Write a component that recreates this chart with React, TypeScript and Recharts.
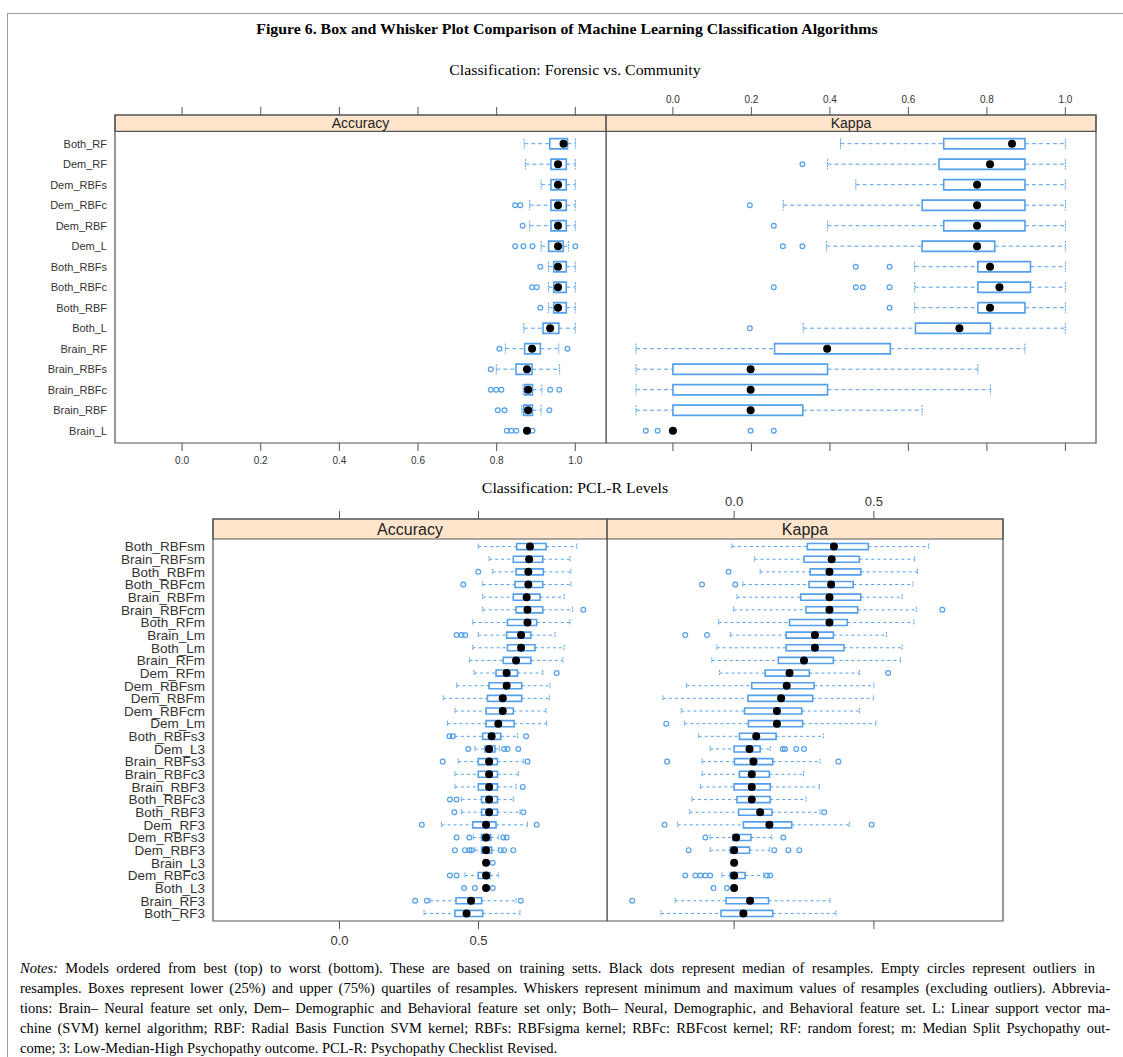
import React from 'react';
import { ComposedChart, XAxis, YAxis, ReferenceArea, ReferenceLine, Scatter } from 'recharts';

// ---------- DATA ----------
const forensicModels = ['Both_RF', 'Dem_RF', 'Dem_RBFs', 'Dem_RBFc', 'Dem_RBF', 'Dem_L', 'Both_RBFs', 'Both_RBFc', 'Both_RBF', 'Both_L', 'Brain_RF', 'Brain_RBFs', 'Brain_RBFc', 'Brain_RBF', 'Brain_L'];

// [whisker min, q1, median, q3, whisker max]
const forensicAccuracy = [
  [0.87, 0.935, 0.97, 0.98, 1.0],
  [0.873, 0.938, 0.956, 0.977, 1.0],
  [0.913, 0.938, 0.956, 0.977, 1.0],
  [0.884, 0.938, 0.956, 0.977, 1.0],
  [0.884, 0.938, 0.956, 0.977, 1.0],
  [0.913, 0.932, 0.956, 0.969, 0.983],
  [0.932, 0.945, 0.956, 0.977, 1.0],
  [0.932, 0.945, 0.956, 0.977, 1.0],
  [0.932, 0.945, 0.956, 0.977, 1.0],
  [0.869, 0.918, 0.936, 0.958, 1.0],
  [0.822, 0.871, 0.89, 0.911, 0.958],
  [0.799, 0.849, 0.877, 0.89, 0.96],
  [0.867, 0.871, 0.88, 0.891, 0.915],
  [0.864, 0.869, 0.88, 0.891, 0.913],
  [0.877, 0.877, 0.877, 0.877, 0.877],
];
const forensicAccuracyOutliers = [
  [], [], [], [0.847, 0.86], [0.866], [0.847, 0.868, 0.891, 1.0], [0.911], [0.89, 0.902], [0.911], [],
  [0.807, 0.98], [0.785], [0.785, 0.799, 0.812, 0.936, 0.959], [0.803, 0.82, 0.934], [0.826, 0.837, 0.85, 0.891],
];

const forensicKappa = [
  [0.427, 0.69, 0.864, 0.897, 1.0],
  [0.394, 0.678, 0.808, 0.897, 1.0],
  [0.466, 0.69, 0.775, 0.897, 1.0],
  [0.281, 0.635, 0.775, 0.897, 1.0],
  [0.394, 0.69, 0.775, 0.897, 1.0],
  [0.391, 0.635, 0.775, 0.82, 1.0],
  [0.616, 0.777, 0.808, 0.911, 1.0],
  [0.616, 0.777, 0.832, 0.911, 1.0],
  [0.616, 0.777, 0.808, 0.897, 1.0],
  [0.332, 0.618, 0.73, 0.809, 1.0],
  [-0.094, 0.259, 0.393, 0.554, 0.897],
  [-0.094, 0.0, 0.198, 0.394, 0.777],
  [-0.094, 0.0, 0.198, 0.394, 0.809],
  [-0.094, 0.0, 0.198, 0.331, 0.635],
  [0, 0, 0, 0, 0],
];
const forensicKappaOutliers = [
  [], [0.33], [], [0.196], [0.257], [0.28, 0.33], [0.466, 0.552], [0.257, 0.466, 0.484, 0.552], [0.552], [0.196],
  [], [], [], [], [-0.069, -0.039, 0.198, 0.257],
];

const pclrModels = ['Both_RBFsm', 'Brain_RBFsm', 'Both_RBFm', 'Both_RBFcm', 'Brain_RBFm', 'Brain_RBFcm', 'Both_RFm', 'Brain_Lm', 'Both_Lm', 'Brain_RFm', 'Dem_RFm', 'Dem_RBFsm', 'Dem_RBFm', 'Dem_RBFcm', 'Dem_Lm', 'Both_RBFs3', 'Dem_L3', 'Brain_RBFs3', 'Brain_RBFc3', 'Brain_RBF3', 'Both_RBFc3', 'Both_RBF3', 'Dem_RF3', 'Dem_RBFs3', 'Dem_RBF3', 'Brain_L3', 'Dem_RBFc3', 'Both_L3', 'Brain_RF3', 'Both_RF3'];

const pclrAccuracy = [
  [0.499, 0.637, 0.685, 0.743, 0.853],
  [0.538, 0.625, 0.682, 0.731, 0.829],
  [0.551, 0.635, 0.679, 0.733, 0.832],
  [0.515, 0.631, 0.679, 0.731, 0.832],
  [0.515, 0.625, 0.673, 0.721, 0.808],
  [0.515, 0.635, 0.676, 0.731, 0.838],
  [0.479, 0.604, 0.676, 0.709, 0.829],
  [0.499, 0.601, 0.653, 0.688, 0.775],
  [0.479, 0.604, 0.653, 0.703, 0.808],
  [0.467, 0.589, 0.635, 0.688, 0.803],
  [0.484, 0.563, 0.601, 0.64, 0.731],
  [0.421, 0.538, 0.601, 0.655, 0.757],
  [0.373, 0.532, 0.587, 0.655, 0.755],
  [0.415, 0.527, 0.587, 0.625, 0.743],
  [0.388, 0.527, 0.571, 0.628, 0.745],
  [0.415, 0.515, 0.547, 0.58, 0.64],
  [0.487, 0.523, 0.538, 0.559, 0.575],
  [0.427, 0.499, 0.538, 0.568, 0.661],
  [0.415, 0.499, 0.538, 0.568, 0.643],
  [0.415, 0.499, 0.538, 0.568, 0.635],
  [0.439, 0.511, 0.538, 0.568, 0.625],
  [0.439, 0.511, 0.538, 0.568, 0.649],
  [0.367, 0.479, 0.527, 0.563, 0.676],
  [0.481, 0.511, 0.527, 0.544, 0.571],
  [0.487, 0.511, 0.527, 0.547, 0.571],
  [0.527, 0.527, 0.527, 0.527, 0.527],
  [0.451, 0.499, 0.527, 0.541, 0.571],
  [0.527, 0.527, 0.527, 0.527, 0.527],
  [0.326, 0.419, 0.473, 0.511, 0.635],
  [0.304, 0.415, 0.457, 0.515, 0.649],
];
const pclrAccuracyOutliers = [
  [], [], [0.499], [0.445], [], [0.877], [], [0.421, 0.439, 0.452], [], [],
  [0.781], [], [], [], [], [0.395, 0.407, 0.671], [0.463, 0.592, 0.604, 0.643], [0.371, 0.676], [], [0.659],
  [0.397, 0.421], [0.413, 0.661], [0.296, 0.709], [0.421, 0.467, 0.589, 0.601], [0.415, 0.451, 0.467, 0.475, 0.58, 0.592, 0.625], [0.551], [0.397, 0.421], [0.448, 0.487, 0.551], [0.272, 0.314, 0.652], [],
];

const pclrKappa = [
  [-0.008, 0.262, 0.357, 0.48, 0.696],
  [0.073, 0.25, 0.349, 0.448, 0.646],
  [0.093, 0.272, 0.341, 0.453, 0.656],
  [0.031, 0.268, 0.347, 0.426, 0.64],
  [0.01, 0.238, 0.341, 0.453, 0.601],
  [-0.002, 0.257, 0.341, 0.442, 0.652],
  [-0.056, 0.198, 0.341, 0.405, 0.643],
  [-0.014, 0.186, 0.289, 0.355, 0.545],
  [-0.062, 0.186, 0.289, 0.393, 0.601],
  [-0.08, 0.158, 0.25, 0.355, 0.595],
  [-0.052, 0.111, 0.198, 0.269, 0.448],
  [-0.171, 0.063, 0.188, 0.286, 0.5],
  [-0.255, 0.049, 0.168, 0.281, 0.498],
  [-0.189, 0.037, 0.153, 0.242, 0.448],
  [-0.178, 0.051, 0.153, 0.245, 0.507],
  [-0.127, 0.019, 0.079, 0.15, 0.319],
  [-0.086, 0.0, 0.055, 0.093, 0.129],
  [-0.115, 0.001, 0.069, 0.138, 0.307],
  [-0.115, 0.019, 0.063, 0.126, 0.248],
  [-0.121, 0.0, 0.063, 0.129, 0.305],
  [-0.151, 0.01, 0.063, 0.129, 0.257],
  [-0.159, 0.016, 0.093, 0.135, 0.307],
  [-0.202, 0.033, 0.126, 0.206, 0.412],
  [-0.086, -0.005, 0.007, 0.06, 0.135],
  [-0.086, -0.014, 0.0, 0.055, 0.126],
  [0, 0, 0, 0, 0],
  [-0.044, -0.014, 0.0, 0.039, 0.105],
  [0, 0, 0, 0, 0],
  [-0.211, -0.029, 0.057, 0.123, 0.343],
  [-0.262, -0.047, 0.033, 0.138, 0.364],
];
const pclrKappaOutliers = [
  [], [], [-0.02], [-0.115, 0.004], [], [0.745], [], [-0.175, -0.097], [], [],
  [0.551], [], [], [], [-0.243], [], [0.174, 0.182, 0.222, 0.25], [-0.24, 0.373], [], [],
  [], [0.322], [-0.249, 0.492], [-0.103, 0.176], [-0.163, 0.143, 0.194, 0.233], [], [-0.175, -0.139, -0.121, -0.103, -0.086, 0.117, 0.129], [-0.074, -0.026], [-0.365], [],
];

const forensicTicks = [0, 0.2, 0.4, 0.6, 0.8, 1.0];
const pclrTicks = [0, 0.5];

const noteLines = [
  'Models ordered from best (top) to worst (bottom). These are based on training setts. Black dots represent median of resamples. Empty circles represent outliers in',
  'resamples. Boxes represent lower (25%) and upper (75%) quartiles of resamples. Whiskers represent minimum and maximum values of resamples (excluding outliers). Abbrevia-',
  'tions: Brain\u2013 Neural feature set only, Dem\u2013 Demographic and Behavioral feature set only; Both\u2013 Neural, Demographic, and Behavioral feature set. L: Linear support vector ma-',
  'chine (SVM) kernel algorithm; RBF: Radial Basis Function SVM kernel; RBFs: RBFsigma kernel; RBFc: RBFcost kernel; RF: random forest; m: Median Split  Psychopathy out-',
  'come; 3: Low-Median-High Psychopathy outcome. PCL-R: Psychopathy Checklist Revised.',
];

// ---------- STYLE ----------
const BLUE = '#54a0ea';
const AXIS = '#555555';
const SANS = '"Liberation Sans", Arial, sans-serif';
const SERIF = '"Liberation Serif", "Times New Roman", serif';

type PanelProps = {
  left: number; top: number; width: number; height: number;
  topH: number; bottomH: number; yWidth: number;
  names: string[]; stats: number[][]; outliers: number[][];
  xDomain: [number, number]; yDomain: [number, number]; ticks: number[];
  strip: string; stripFont: number; showNames: boolean; nameFont: number;
  topLabels: boolean; bottomLabels: boolean; tickFont: number;
  tickLen: number; topGap: number; bottomGap: number;
  boxHalf: number; medR: number; outR: number; dash: string;
};

function BoxPanel(p: PanelProps) {
  const rows = p.names.map((_, i) => i + 1);
  const medians = p.stats.map((s, i) => ({ x: s[2], y: i + 1 }));
  const outs = p.outliers.flatMap((o, i) => o.map((v) => ({ x: v, y: i + 1 })));
  const fmt = (v: number) => v.toFixed(1);
  const blank = () => '';
  const h = p.boxHalf;
  const marks = p.stats.flatMap((s, i) => {
    const y = i + 1;
    const [mn, q1, , q3, mx] = s;
    const els: any[] = [];
    if (q3 > q1) {
      els.push(
        <ReferenceArea key={`b${i}`} xAxisId="b" yAxisId="y" x1={q1} x2={q3} y1={y - h} y2={y + h}
          fill="#ffffff" fillOpacity={0} stroke={BLUE} strokeWidth={1.6} ifOverflow="visible" />
      );
    }
    if (q1 > mn) {
      els.push(
        <ReferenceLine key={`wl${i}`} xAxisId="b" yAxisId="y" segment={[{ x: mn, y }, { x: q1, y }]}
          stroke={BLUE} strokeWidth={1} strokeDasharray={p.dash} ifOverflow="visible" />,
        <ReferenceLine key={`cl${i}`} xAxisId="b" yAxisId="y" segment={[{ x: mn, y: y - h }, { x: mn, y: y + h }]}
          stroke={BLUE} strokeWidth={1} strokeDasharray="2 1" ifOverflow="visible" />
      );
    }
    if (mx > q3) {
      els.push(
        <ReferenceLine key={`wh${i}`} xAxisId="b" yAxisId="y" segment={[{ x: q3, y }, { x: mx, y }]}
          stroke={BLUE} strokeWidth={1} strokeDasharray={p.dash} ifOverflow="visible" />,
        <ReferenceLine key={`ch${i}`} xAxisId="b" yAxisId="y" segment={[{ x: mx, y: y - h }, { x: mx, y: y + h }]}
          stroke={BLUE} strokeWidth={1} strokeDasharray="2 1" ifOverflow="visible" />
      );
    }
    return els;
  });
  return (
    <div style={{ position: 'absolute', left: p.left, top: p.top }}>
      <ComposedChart width={p.width} height={p.height} margin={{ top: 0, right: 1, bottom: 0, left: 0 }}>
        <XAxis xAxisId="b" orientation="bottom" type="number" dataKey="x" domain={p.xDomain} allowDataOverflow
          ticks={p.ticks} interval={0} height={p.bottomH} tickSize={p.tickLen} tickMargin={p.bottomGap}
          tickFormatter={p.bottomLabels ? fmt : blank} axisLine={false} tickLine={{ stroke: AXIS }}
          tick={{ fontSize: p.tickFont, fill: '#333', fontFamily: SANS }} />
        <XAxis xAxisId="t" orientation="top" type="number" dataKey="x" domain={p.xDomain} allowDataOverflow
          ticks={p.ticks} interval={0} height={p.topH} tickSize={p.tickLen} tickMargin={p.topGap}
          tickFormatter={p.topLabels ? fmt : blank} axisLine={false} tickLine={{ stroke: AXIS }}
          tick={{ fontSize: p.tickFont, fill: '#333', fontFamily: SANS }} />
        <YAxis yAxisId="y" type="number" dataKey="y" domain={p.yDomain} allowDataOverflow reversed
          ticks={rows} interval={0} width={p.yWidth} hide={!p.showNames} tickSize={0} tickMargin={8}
          tickFormatter={(v: number) => p.names[v - 1] ?? ''} axisLine={false} tickLine={false}
          tick={{ fontSize: p.nameFont, fill: '#333', fontFamily: SANS }} />
        <ReferenceArea xAxisId="b" yAxisId="y" x1={p.xDomain[0]} x2={p.xDomain[1]} y1={p.yDomain[0]} y2={0.4}
          fill="#ffe5cc" fillOpacity={1} stroke={AXIS} strokeWidth={1.2} ifOverflow="visible"
          label={{ value: p.strip, position: 'center', fill: '#222', fontSize: p.stripFont, fontFamily: SANS }} />
        <ReferenceArea xAxisId="b" yAxisId="y" x1={p.xDomain[0]} x2={p.xDomain[1]} y1={p.yDomain[0]} y2={p.yDomain[1]}
          fill="#ffffff" fillOpacity={0} stroke={AXIS} strokeWidth={1.2} ifOverflow="visible" />
        {marks}
        <Scatter xAxisId="b" yAxisId="y" data={outs} isAnimationActive={false}
          shape={(s: any) => <circle cx={s.cx} cy={s.cy} r={p.outR} fill="none" stroke={BLUE} strokeWidth={1.2} />} />
        <Scatter xAxisId="b" yAxisId="y" data={medians} isAnimationActive={false}
          shape={(s: any) => <circle cx={s.cx} cy={s.cy} r={p.medR} fill="#000" />} />
      </ComposedChart>
    </div>
  );
}

export default function App() {
  const topX: [number, number] = [-0.1705, 1.078];
  const topY: [number, number] = [-0.4, 15.6];
  const lowX: [number, number] = [-0.455, 0.962];
  const lowY: [number, number] = [-1.18, 30.6];
  const topCommon = {
    top: 80, height: 393, topH: 35, bottomH: 30, ticks: forensicTicks,
    xDomain: topX, yDomain: topY, stripFont: 14, nameFont: 11, tickFont: 10,
    tickLen: 8, topGap: 4, bottomGap: 6, boxHalf: 0.25, medR: 4, outR: 2.4, dash: '4 3',
    names: forensicModels,
  };
  const lowCommon = {
    top: 470, height: 491, topH: 49, bottomH: 40, ticks: pclrTicks,
    xDomain: lowX, yDomain: lowY, stripFont: 16, nameFont: 13.5, tickFont: 13,
    tickLen: 8, topGap: 5, bottomGap: 7, boxHalf: 0.24, medR: 4, outR: 2.4, dash: '3 3',
    names: pclrModels,
  };
  const wide = (origin: number) => ({ transform: 'scaleX(1.13)', transformOrigin: `${origin}px 0` });
  return (
    <div style={{ position: 'absolute', left: 0, top: 0, width: 1123, height: 1057, background: '#fff', fontFamily: SERIF, overflow: 'hidden' }}>
      <div style={{ position: 'absolute', left: 7, top: 13, width: 1116, height: 1044, borderLeft: '1px solid #9a9a9a', borderTop: '1px solid #9a9a9a' }} />
      <div style={{ position: 'absolute', left: 0, top: 21, width: 1134, textAlign: 'center', fontSize: 14, fontWeight: 'bold', lineHeight: '18px', ...wide(567) }}>
        Figure 6. Box and Whisker Plot Comparison of Machine Learning Classification Algorithms
      </div>
      <div style={{ position: 'absolute', left: 0, top: 62, width: 1150, textAlign: 'center', fontSize: 14, lineHeight: '18px', ...wide(575) }}>
        Classification: Forensic vs. Community
      </div>
      <BoxPanel {...topCommon} left={0} width={607} yWidth={115} stats={forensicAccuracy} outliers={forensicAccuracyOutliers}
        strip="Accuracy" showNames={true} topLabels={false} bottomLabels={true} />
      <BoxPanel {...topCommon} left={606} width={491} yWidth={0} stats={forensicKappa} outliers={forensicKappaOutliers}
        strip="Kappa" showNames={false} topLabels={true} bottomLabels={false} />
      <div style={{ position: 'absolute', left: 0, top: 480, width: 1150, textAlign: 'center', fontSize: 14, lineHeight: '18px', zIndex: 2, ...wide(575) }}>
        Classification: PCL-R Levels
      </div>
      <BoxPanel {...lowCommon} left={0} width={608} yWidth={213} stats={pclrAccuracy} outliers={pclrAccuracyOutliers}
        strip="Accuracy" showNames={true} topLabels={false} bottomLabels={true} />
      <BoxPanel {...lowCommon} left={607} width={397} yWidth={0} stats={pclrKappa} outliers={pclrKappaOutliers}
        strip="Kappa" showNames={false} topLabels={true} bottomLabels={false} />
      <div style={{ position: 'absolute', left: 20, top: 958, fontSize: 14.5, lineHeight: '20px' }}>
        {noteLines.map((line, i) => (
          <div key={i} style={{
            width: i === 0 ? 1075 : 1090, whiteSpace: 'nowrap', textAlign: 'justify',
            textAlignLast: i < noteLines.length - 1 ? 'justify' : 'left',
          }}>
            {i === 0 ? <><i>Notes:</i> {line}</> : line}
          </div>
        ))}
      </div>
    </div>
  );
}
